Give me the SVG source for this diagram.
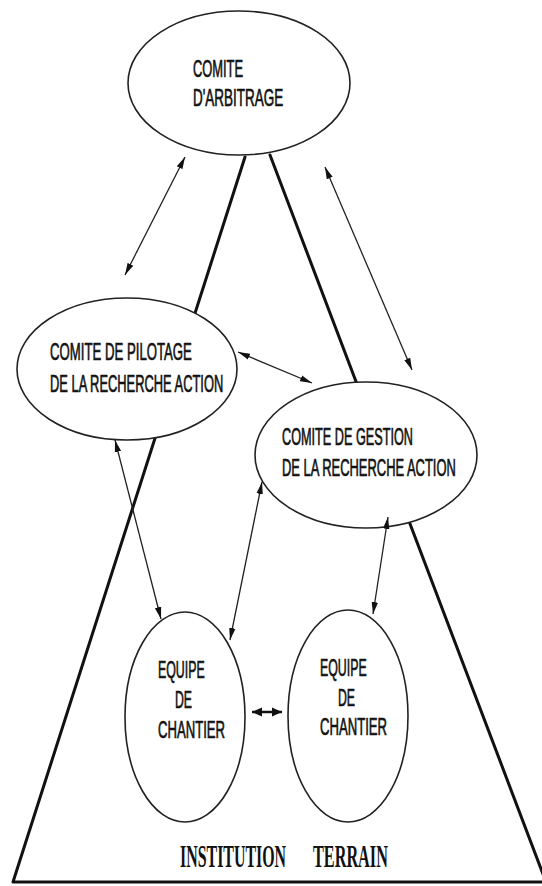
<svg xmlns="http://www.w3.org/2000/svg" width="542" height="886" viewBox="0 0 542 886">
<style>
.bg{fill:#ffffff}
.frame{fill:none;stroke:#111;stroke-width:3;stroke-linecap:round;stroke-linejoin:round}
.node{fill:#ffffff;stroke:#222;stroke-width:1.6}
.lbl{font-family:"Liberation Sans",Arial,sans-serif;font-size:24px;fill:#111;stroke:#111;stroke-width:0.7}
.big{font-family:"Liberation Serif","Times New Roman",serif;font-weight:bold;font-size:31px;fill:#111}
.arr{fill:none;stroke:#222;stroke-width:1.3;marker-start:url(#ah);marker-end:url(#ah)}
.arr2{fill:none;stroke:#111;stroke-width:2.5;marker-start:url(#ah2);marker-end:url(#ah2)}
</style>
<defs>
<marker id="ah" viewBox="0 0 12 8" refX="12" refY="4" markerWidth="12" markerHeight="8" markerUnits="userSpaceOnUse" orient="auto-start-reverse">
<path d="M0,0.8 L12,4 L0,7.2 Z" fill="#111"/>
</marker>
<marker id="ah2" viewBox="0 0 10 10" refX="10" refY="5" markerWidth="10" markerHeight="10" markerUnits="userSpaceOnUse" orient="auto-start-reverse">
<path d="M0,0.5 L10,5 L0,9.5 Z" fill="#111"/>
</marker>
</defs>
<rect class="bg" x="0" y="0" width="542" height="886"/>
<g id="frame">
<polyline class="frame" points="245,157 13,882 542,882"/>
<line class="frame" x1="270" y1="155" x2="546" y2="882"/>
</g>
<g id="comite-arbitrage">
<ellipse class="node" cx="239" cy="83" rx="111" ry="72"/>
<text class="lbl" transform="translate(193,77) scale(0.55,1)" textLength="91" lengthAdjust="spacingAndGlyphs">COMITE</text>
<text class="lbl" transform="translate(193,106) scale(0.55,1)" textLength="164" lengthAdjust="spacingAndGlyphs">D'ARBITRAGE</text>
</g>
<g id="comite-pilotage">
<ellipse class="node" cx="127" cy="369" rx="110" ry="71"/>
<text class="lbl" transform="translate(50,360) scale(0.55,1)" textLength="258" lengthAdjust="spacingAndGlyphs">COMITE DE PILOTAGE</text>
<text class="lbl" transform="translate(50,392) scale(0.55,1)" textLength="315" lengthAdjust="spacingAndGlyphs">DE LA RECHERCHE ACTION</text>
</g>
<g id="comite-gestion">
<ellipse class="node" cx="366" cy="455" rx="111" ry="73"/>
<text class="lbl" transform="translate(282,445) scale(0.55,1)" textLength="238" lengthAdjust="spacingAndGlyphs">COMITE DE GESTION</text>
<text class="lbl" transform="translate(282,476) scale(0.55,1)" textLength="316" lengthAdjust="spacingAndGlyphs">DE LA RECHERCHE ACTION</text>
</g>
<g id="equipe-chantier-1">
<ellipse class="node" cx="185" cy="717" rx="60" ry="105"/>
<text class="lbl" transform="translate(158,678) scale(0.55,1)" textLength="85" lengthAdjust="spacingAndGlyphs">EQUIPE</text>
<text class="lbl" transform="translate(175,708) scale(0.55,1)" textLength="31" lengthAdjust="spacingAndGlyphs">DE</text>
<text class="lbl" transform="translate(158,738) scale(0.55,1)" textLength="122" lengthAdjust="spacingAndGlyphs">CHANTIER</text>
</g>
<g id="equipe-chantier-2">
<ellipse class="node" cx="348" cy="716" rx="60" ry="106"/>
<text class="lbl" transform="translate(320,676) scale(0.55,1)" textLength="85" lengthAdjust="spacingAndGlyphs">EQUIPE</text>
<text class="lbl" transform="translate(338,706) scale(0.55,1)" textLength="31" lengthAdjust="spacingAndGlyphs">DE</text>
<text class="lbl" transform="translate(320,735) scale(0.55,1)" textLength="122" lengthAdjust="spacingAndGlyphs">CHANTIER</text>
</g>
<g id="connectors">
<line class="arr" x1="185" y1="157" x2="125" y2="275"/>
<line class="arr" x1="325" y1="167" x2="412" y2="370"/>
<line class="arr" x1="238" y1="352" x2="312" y2="383"/>
<line class="arr" x1="115" y1="440" x2="161" y2="619"/>
<line class="arr" x1="262" y1="482" x2="230" y2="640"/>
<line class="arr" x1="388" y1="517" x2="373" y2="614"/>
<line class="arr2" x1="252" y1="712" x2="282" y2="712"/>
</g>
<g id="footer">
<text class="big" transform="translate(180,867) scale(0.52,1)" textLength="204" lengthAdjust="spacingAndGlyphs">INSTITUTION</text>
<text class="big" transform="translate(313,867) scale(0.52,1)" textLength="144" lengthAdjust="spacingAndGlyphs">TERRAIN</text>
</g>
</svg>
